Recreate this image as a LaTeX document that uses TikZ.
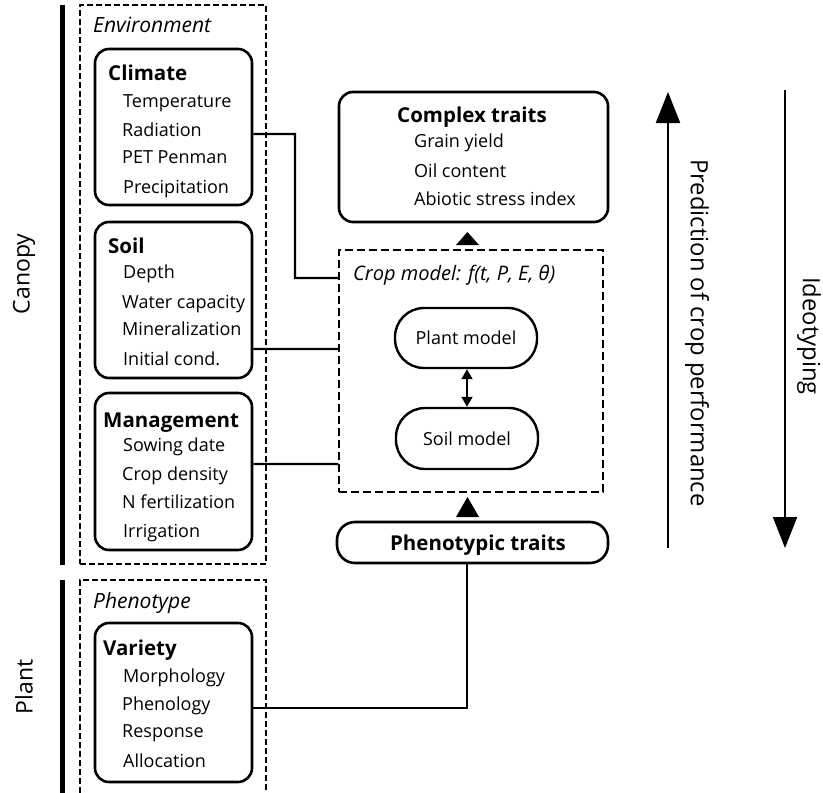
\documentclass[tikz,border=0pt]{standalone}
\usepackage{fontspec}
\setmainfont{Open Sans}
\usetikzlibrary{arrows.meta,calc}
\newcommand{\bodyfs}{\fontsize{18bp}{22bp}\selectfont}
\newcommand{\headfs}{\fontsize{20.5bp}{24bp}\selectfont\bfseries}
\newcommand{\bigfs}{\fontsize{23bp}{28bp}\selectfont}
\newcommand{\sidefs}{\fontsize{23.8bp}{28bp}\selectfont}
\begin{document}
\begin{tikzpicture}[x=1bp,y=-1bp,
  box/.style={draw, line width=2.6bp, rounded corners=14bp, inner sep=0pt},
  pill/.style={draw, line width=2.4bp, rounded corners=29bp, inner sep=0pt},
  grp/.style={draw, line width=1.1bp, dash pattern=on 6bp off 3bp, inner sep=0pt},
  txt/.style={anchor=base west, inner sep=0pt, font=\bodyfs},
  hd/.style={anchor=base west, inner sep=0pt, font=\headfs},
  ctxt/.style={anchor=center, inner sep=0pt, font=\bodyfs},
  conn/.style={line width=2.3bp},
  bar/.style={line width=5bp},
  side/.style={line width=2bp, -{Triangle[length=31bp,width=24bp]}}]
\useasboundingbox (0,0) rectangle (823,793);

% side labels and bars
\draw[bar] (62.5,5) -- (62.5,565);
\draw[bar] (62.5,580) -- (62.5,793);
\node[rotate=90, font=\bigfs, inner sep=0pt] (canopy) at (24,274) {Canopy};
\node[rotate=90, font=\bigfs, inner sep=0pt] (plant) at (24,687) {Plant};

% group boxes
\node[grp, minimum width=186bp, minimum height=559bp] (env) at (173,284.5) {};
\node[txt, font=\fontsize{21bp}{25bp}\selectfont\itshape] at (93,33) {Environment};
\draw[line width=1.1bp, dash pattern=on 6bp off 3bp] (80,793) -- (80,580) -- (266,580) -- (266,793);
\node[txt, font=\fontsize{21bp}{25bp}\selectfont\itshape] at (93,608) {Phenotype};

% Climate
\node[box, minimum width=157bp, minimum height=156bp] (climate) at (173.5,127) {};
\node[hd] at (108,81) {Climate};
\node[txt] at (123,107) {Temperature};
\node[txt] at (122,136) {Radiation};
\node[txt] at (122,163) {PET Penman};
\node[txt] at (123,193) {Precipitation};

% Soil
\node[box, minimum width=157bp, minimum height=156bp] (soil) at (173.5,300) {};
\node[hd] at (108,253) {Soil};
\node[txt] at (123,278) {Depth};
\node[txt] at (122,308) {Water capacity};
\node[txt] at (122,335) {Mineralization};
\node[txt] at (123,365) {Initial cond.};

% Management
\node[box, minimum width=157bp, minimum height=157bp] (mgmt) at (173.5,471.5) {};
\node[hd] at (103,427) {Management};
\node[txt] at (123,451) {Sowing date};
\node[txt] at (122,480) {Crop density};
\node[txt] at (122,508) {N fertilization};
\node[txt] at (123,537) {Irrigation};

% Variety
\node[box, minimum width=157bp, minimum height=159bp] (variety) at (173.5,702.5) {};
\node[hd] at (103,655) {Variety};
\node[txt] at (123,682) {Morphology};
\node[txt] at (122,710) {Phenology};
\node[txt] at (122,737) {Response};
\node[txt] at (123,767) {Allocation};

% Complex traits
\node[box, minimum width=269bp, minimum height=130bp] (complex) at (473.5,157) {};
\node[anchor=base, inner sep=0pt, font=\headfs] at (472,122) {Complex traits};
\node[txt] at (414,147) {Grain yield};
\node[txt] at (414,177) {Oil content};
\node[txt] at (414,205) {Abiotic stress index};

% Crop model
\node[draw, line width=1.3bp, dash pattern=on 8bp off 4bp, inner sep=0pt,
      minimum width=264bp, minimum height=242bp] (crop) at (471,371) {};
\node[txt, font=\fontsize{20bp}{24bp}\selectfont\itshape] at (353,280) {Crop model: f(t, P, E, θ)};
\node[pill, minimum width=142bp, minimum height=60bp] (pmodel) at (466,338) {};
\node[ctxt] at (466,338) {Plant model};
\node[pill, minimum width=142bp, minimum height=61bp] (smodel) at (467,438.5) {};
\node[ctxt] at (467,438.5) {Soil model};
\draw[line width=1.8bp, {Triangle[length=10bp,width=11bp]}-{Triangle[length=10bp,width=11bp]}]
  ([xshift=1bp]pmodel.south) -- (smodel.north);

% Phenotypic traits
\node[draw, line width=2.6bp, rounded corners=18bp, inner sep=0pt,
      minimum width=271bp, minimum height=41bp] (pheno) at (472.5,542.5) {};
\node[anchor=base, inner sep=0pt, font=\headfs] at (478,550) {Phenotypic traits};

% solid triangles
\fill (456,245) -- (479,245) -- (467.5,232) -- cycle;
\fill (456,517) -- (479,517) -- (467.5,497) -- cycle;

% connectors
\draw[conn] ([yshift=-7bp]climate.east) -| (295,278) -- ([yshift=93bp]crop.west);
\draw[conn] ([yshift=-49bp]soil.east) -- ([yshift=22bp]crop.west);
\draw[conn] ([yshift=7.5bp]mgmt.east) -- ([yshift=-93bp]crop.west);
\draw[conn] ([xshift=-5.5bp]pheno.south) |- ([yshift=-5.5bp]variety.east);

% side arrows
\coordinate (pa0) at (668,548);
\coordinate (pa1) at (668,92);
\coordinate (ia0) at (785,90);
\coordinate (ia1) at (785,548);
\draw[side] (pa0) -- (pa1);
\draw[side] (ia0) -- (ia1);
\node[rotate=-90, font=\sidefs, inner sep=0pt] (pred) at (697,333) {Prediction of crop performance};
\node[rotate=-90, font=\sidefs, inner sep=0pt] (ideo) at (809,336) {Ideotyping};
\end{tikzpicture}
\end{document}
